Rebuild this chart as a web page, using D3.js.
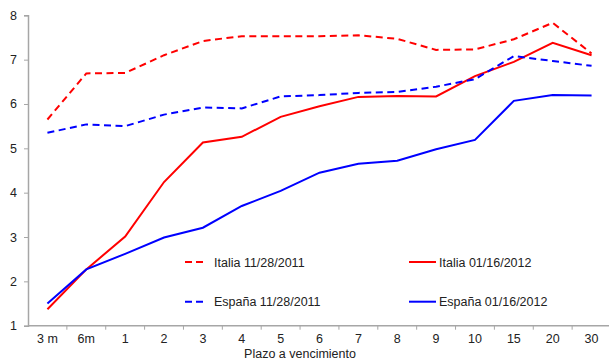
<!DOCTYPE html>
<html>
<head>
<meta charset="utf-8">
<script src="https://cdn.jsdelivr.net/npm/d3@7"></script>
<style>
  html, body { margin: 0; padding: 0; background: #fff; }
  svg { display: block; font-family: "Liberation Sans", Arial, sans-serif; }
</style>
</head>
<body>
<svg id="chart" width="609" height="360"></svg>
<script>
// Plazos (maturities)
const plazos = ["3 m", "6m", "1", "2", "3", "4", "5", "6", "7", "8", "9", "10", "15", "20", "30"];

// Yield curves (%)
const italia2011 = [5.65, 6.69, 6.70, 7.10, 7.42, 7.53, 7.53, 7.53, 7.55, 7.47, 7.22, 7.23, 7.46, 7.83, 7.14];
const italia2012 = [1.37, 2.27, 3.01, 4.24, 5.13, 5.26, 5.71, 5.95, 6.16, 6.18, 6.17, 6.63, 6.95, 7.38, 7.10];
const espana2011 = [5.35, 5.54, 5.50, 5.76, 5.92, 5.90, 6.17, 6.20, 6.25, 6.27, 6.39, 6.56, 7.08, 6.97, 6.86];
const espana2012 = [1.50, 2.27, 2.62, 2.99, 3.21, 3.70, 4.04, 4.45, 4.65, 4.72, 4.98, 5.19, 6.07, 6.20, 6.19];

const yTicks = [1, 2, 3, 4, 5, 6, 7, 8];

const series = [
  { name: "Italia 11/28/2011", values: italia2011, color: "#ff0000", dashed: true },
  { name: "Italia 01/16/2012", values: italia2012, color: "#ff0000", dashed: false },
  { name: "España 11/28/2011", values: espana2011, color: "#0000ff", dashed: true },
  { name: "España 01/16/2012", values: espana2012, color: "#0000ff", dashed: false }
];

const svg = d3.select("#chart");
const axisColor = "#a6a6a6";
const fontSize = 12.5;

const x = d3.scaleBand().domain(plazos).range([28, 611]);
const y = d3.scaleLinear().domain([1, 8]).range([325.7, 15.3]);

// Y axis
const yAxis = svg.append("g").attr("transform", "translate(28,0)")
  .call(d3.axisLeft(y).tickValues(yTicks).tickSize(4).tickPadding(7).tickFormat(d3.format("d")));
yAxis.select(".domain").attr("stroke", axisColor).attr("stroke-width", 1.5);
yAxis.selectAll(".tick line").attr("stroke", axisColor);
yAxis.selectAll(".tick text").attr("font-size", fontSize).attr("fill", "#222")
  .attr("font-family", "Liberation Sans, Arial, sans-serif");

// X axis: ticks at band boundaries, labels at band centres
const xAxis = svg.append("g").attr("transform", "translate(0,325.7)");
xAxis.append("line")
  .attr("x1", 28).attr("x2", 611).attr("y1", 0).attr("y2", 0)
  .attr("stroke", axisColor).attr("stroke-width", 1.5);
xAxis.selectAll("line.tick").data(plazos.slice(1).concat(["end"]))
  .join("line").attr("class", "tick")
  .attr("x1", (d, i) => x(plazos[0]) + (i + 1) * x.step())
  .attr("x2", (d, i) => x(plazos[0]) + (i + 1) * x.step())
  .attr("y1", 0).attr("y2", 4).attr("stroke", axisColor);
xAxis.selectAll("text").data(plazos).join("text")
  .attr("x", d => x(d) + x.bandwidth() / 2)
  .attr("y", 17.5)
  .attr("text-anchor", "middle")
  .attr("font-size", fontSize).attr("fill", "#222")
  .text(d => d);

svg.append("text")
  .attr("x", 300).attr("y", 358)
  .attr("text-anchor", "middle")
  .attr("font-size", fontSize).attr("fill", "#222")
  .text("Plazo a vencimiento");

// Lines
const line = d3.line()
  .x((d, i) => x(plazos[i]) + x.bandwidth() / 2)
  .y(d => y(d));

svg.append("g").selectAll("path").data(series).join("path")
  .attr("d", s => line(s.values))
  .attr("fill", "none")
  .attr("stroke", s => s.color)
  .attr("stroke-width", 2)
  .attr("stroke-dasharray", s => s.dashed ? "7,4.5" : null);

// Legend
const legendPos = [
  { x: 185, y: 262 },
  { x: 409, y: 262 },
  { x: 185, y: 301.7 },
  { x: 409, y: 301.7 }
];
const legend = svg.append("g").selectAll("g").data(series).join("g")
  .attr("transform", (d, i) => `translate(${legendPos[i].x},${legendPos[i].y})`);
legend.append("line")
  .attr("x1", 0).attr("x2", s => s.dashed ? 18 : 27)
  .attr("y1", 0).attr("y2", 0)
  .attr("stroke", s => s.color).attr("stroke-width", 2)
  .attr("stroke-dasharray", s => s.dashed ? "7,4" : null);
legend.append("text")
  .attr("x", s => s.dashed ? 29 : 30)
  .attr("y", 4.5)
  .attr("font-size", fontSize).attr("fill", "#222")
  .text(s => s.name);
</script>
</body>
</html>
